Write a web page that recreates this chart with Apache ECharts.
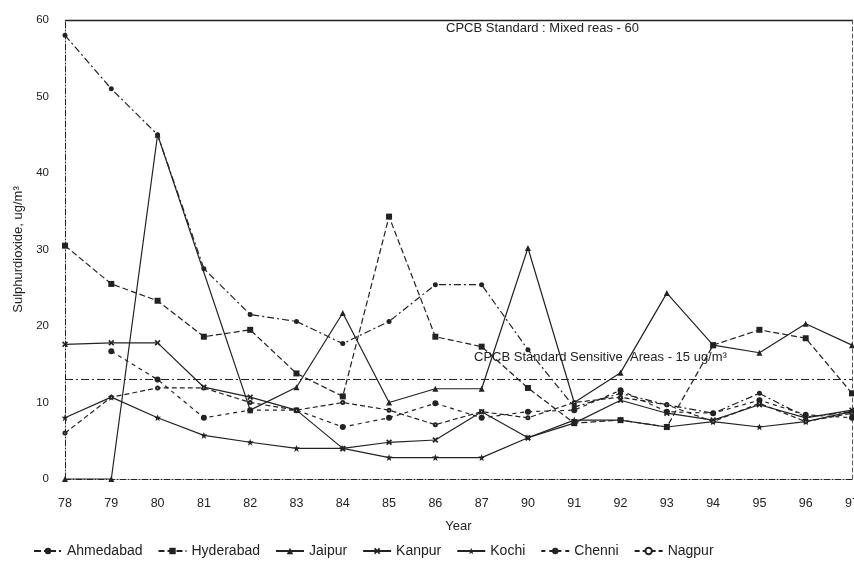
<!DOCTYPE html>
<html>
<head>
<meta charset="utf-8">
<script src="https://cdn.jsdelivr.net/npm/echarts@6/dist/echarts.min.js"></script>
<style>
html,body{margin:0;padding:0;background:#fff;}
#chart{width:854px;height:573px;}
</style>
</head>
<body>
<div id="chart"></div>
<script>
const categories = ['78','79','80','81','82','83','84','85','86','87','90','91','92','93','94','95','96','97'];
const yTicks = [0,10,20,30,40,50,60];
const ahmedabad = [58,51,45,27.5,21.5,20.6,17.7,20.6,25.4,25.4,16.9,9.4,11.2,9.7,8.6,11.2,8.1,8.8];
const hyderabad = [30.5,25.5,23.3,18.6,19.5,13.8,10.8,34.3,18.6,17.3,11.9,7.3,7.7,6.8,17.5,19.5,18.4,11.2];
const jaipur    = [0,0,45,null,9,12,21.7,10,11.8,11.8,30.2,10,13.9,24.3,17.5,16.5,20.3,17.5];
const kanpur    = [17.6,17.8,17.8,12,10.7,9,4,4.8,5.1,8.8,5.4,7.3,10.3,8.6,7.7,9.7,8,9];
const kochi     = [8,10.7,8,5.7,4.8,4,4,2.8,2.8,2.8,5.4,7.7,7.7,6.8,7.5,6.8,7.5,8.8];
const chenni    = [null,16.7,13,8,9,9,6.8,8,9.9,8,8.8,9,11.6,8.8,8.6,10.3,8.4,8];
const nagpur    = [6,10.7,11.9,11.9,10,9,10,9,7.1,8.8,8,10,10.7,9.7,7.5,9.9,7.5,8.6];
const mixedStd = 60;
const sensitiveStd = 13;
const seriesNames = ['Ahmedabad','Hyderabad','Jaipur','Kanpur','Kochi','Chenni','Nagpur'];

const C = '#222';
const xSym = 'path://M2,0L5,3L8,0L10,2L7,5L10,8L8,10L5,7L2,10L0,8L3,5L0,2Z';
const starSym = 'path://M5,0L6.2,3.4L10,3.6L7,6L8.1,10L5,7.6L1.9,10L3,6L0,3.6L3.8,3.4Z';

function mk(name, data, symbol, type, size) {
  return {
    name: name, type: 'line', data: data, connectNulls: true,
    symbol: symbol, symbolSize: size || 6,
    lineStyle: {color: C, width: 1.2, type: type},
    itemStyle: {color: C},
    emphasis: {disabled: true}, animation: false
  };
}

const series = [
  mk('Ahmedabad', ahmedabad, 'circle', [7,3,2,3], 5),
  mk('Hyderabad', hyderabad, 'rect', [6,3], 6),
  mk('Jaipur', jaipur, 'triangle', 'solid', 6),
  mk('Kanpur', kanpur, xSym, 'solid', 6),
  mk('Kochi', kochi, starSym, 'solid', 7),
  mk('Chenni', chenni, 'circle', [4,4], 6),
  mk('Nagpur', nagpur, 'emptyCircle', [5,3], 3)
];
series[0].markLine = {
  silent: true, symbol: 'none', animation: false,
  label: {show: false},
  data: [
    {yAxis: mixedStd, lineStyle: {color: C, width: 1.3, type: 'solid'}},
    {yAxis: sensitiveStd, lineStyle: {color: C, width: 1.2, type: [8,3,2,3]}}
  ]
};

const chart = echarts.init(document.getElementById('chart'), null, {renderer: 'canvas'});
chart.setOption({
  backgroundColor: '#fff',
  animation: false,
  textStyle: {fontFamily: 'Liberation Sans, Arial, sans-serif', color: C},
  grid: {left: 65, right: 2, top: 20, bottom: 94, containLabel: false, outerBoundsMode: 'none'},
  xAxis: {
    type: 'category', data: categories, boundaryGap: false,
    name: 'Year', nameLocation: 'middle', nameGap: 41,
    nameTextStyle: {fontSize: 13, color: C},
    axisLine: {lineStyle: {color: C, width: 1, type: [6,2,1,2]}},
    axisTick: {show: false},
    axisLabel: {color: C, fontSize: 12.5, margin: 18, hideOverlap: false},
    splitLine: {show: false}
  },
  yAxis: [{
    type: 'value', min: 0, max: 60, interval: 10,
    name: 'Sulphurdioxide, ug/m³', nameLocation: 'middle', nameGap: 40,
    nameTextStyle: {fontSize: 13, color: C},
    axisLine: {show: true, lineStyle: {color: C, width: 1, type: [6,2,1,2]}},
    axisTick: {show: false},
    axisLabel: {color: C, fontSize: 11.5, margin: 16},
    splitLine: {show: false}
  }, {
    type: 'value', min: 0, max: 60, interval: 10, position: 'right',
    axisLine: {show: true, lineStyle: {color: '#555', width: 1, type: [4,3]}},
    axisTick: {show: false}, axisLabel: {show: false}, splitLine: {show: false}
  }],
  legend: {
    data: seriesNames, left: 28, top: 539,
    itemWidth: 28, itemHeight: 8, itemGap: 15,
    textStyle: {fontSize: 14, color: C, fontFamily: 'Liberation Sans Narrow, Liberation Sans, Arial'},
    selectedMode: false
  },
  graphic: [
    {type: 'text', left: 446, top: 22, style: {text: 'CPCB Standard : Mixed reas - 60', fontSize: 13, fill: C, fontFamily: 'Liberation Sans, Arial'}},
    {type: 'text', left: 474, top: 351, style: {text: 'CPCB Standard Sensitive  Areas - 15 ug/m³', fontSize: 13, fill: C, fontFamily: 'Liberation Sans, Arial'}}
  ],
  series: series
});
</script>
</body>
</html>
